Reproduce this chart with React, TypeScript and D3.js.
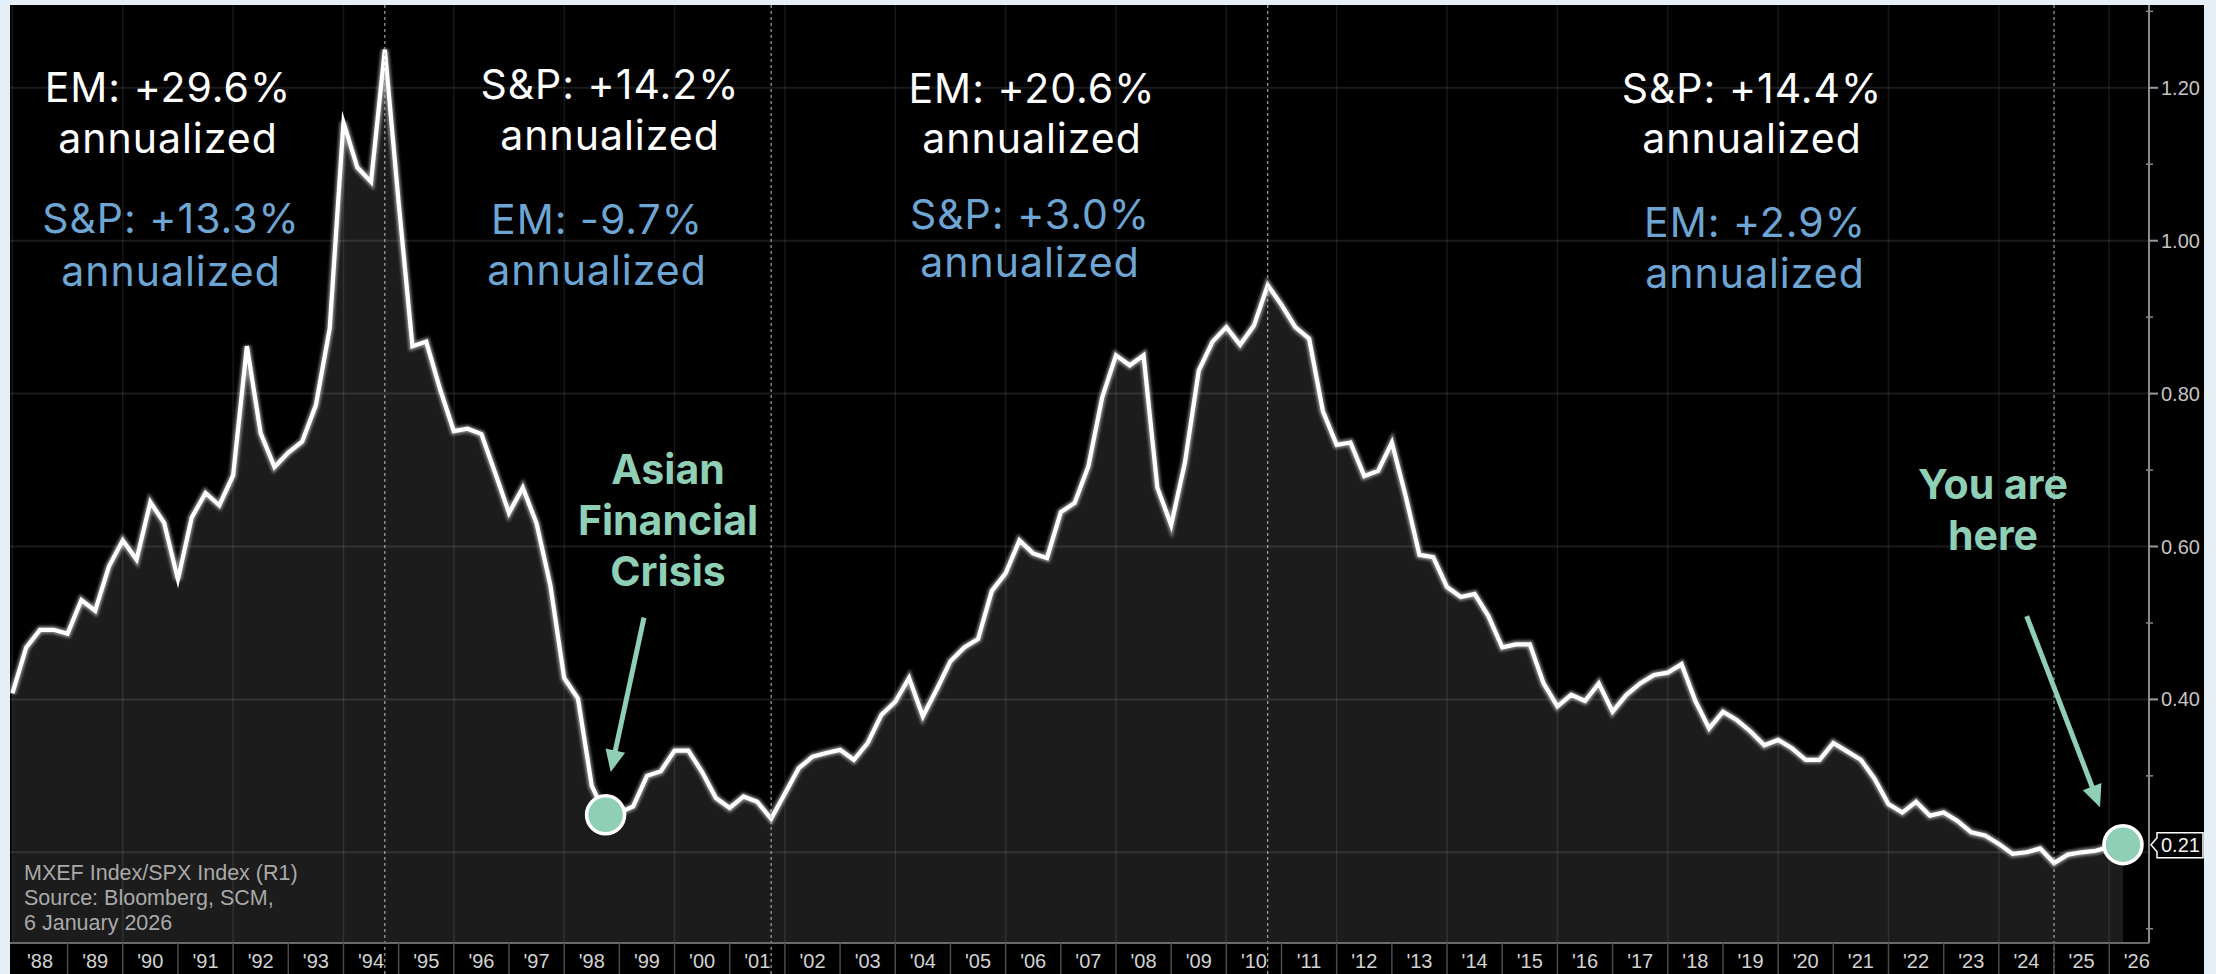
import React from "react";
import * as d3 from "d3";

// ---------------- DATA ----------------
const START_YEAR = 1988;
const STEP = 0.25; // quarterly observations

// MXEF Index / SPX Index ratio, quarterly from 1988
const ratioValues: number[] = [
  0.408, 0.468, 0.491, 0.491, 0.486, 0.530, 0.516, 0.574, 0.608, 0.583,
  0.658, 0.631, 0.557, 0.638, 0.670, 0.654, 0.693, 0.862, 0.748, 0.704,
  0.723, 0.737, 0.785, 0.885, 1.155, 1.096, 1.077, 1.250, 1.050, 0.862,
  0.868, 0.806, 0.751, 0.754, 0.747, 0.696, 0.644, 0.677, 0.630, 0.549,
  0.428, 0.401, 0.287, 0.249, 0.252, 0.260, 0.300, 0.306, 0.333, 0.333,
  0.305, 0.271, 0.258, 0.273, 0.266, 0.244, 0.277, 0.310, 0.325, 0.330,
  0.334, 0.321, 0.343, 0.380, 0.397, 0.428, 0.378, 0.413, 0.450, 0.468,
  0.479, 0.542, 0.565, 0.608, 0.591, 0.585, 0.645, 0.657, 0.705, 0.795,
  0.850, 0.837, 0.850, 0.677, 0.628, 0.710, 0.830, 0.868, 0.887, 0.864,
  0.889, 0.942, 0.916, 0.887, 0.872, 0.777, 0.733, 0.736, 0.692, 0.699,
  0.736, 0.666, 0.589, 0.586, 0.547, 0.534, 0.538, 0.509, 0.468, 0.472,
  0.472, 0.421, 0.391, 0.406, 0.398, 0.421, 0.384, 0.406, 0.421, 0.432,
  0.435, 0.446, 0.398, 0.362, 0.384, 0.373, 0.358, 0.340, 0.347, 0.336,
  0.321, 0.321, 0.343, 0.332, 0.321, 0.296, 0.263, 0.252, 0.266, 0.248,
  0.252, 0.241, 0.226, 0.222, 0.211, 0.198, 0.200, 0.205, 0.186, 0.197,
  0.200, 0.202, 0.207, 0.210,
];

const yearTicks: number[] = d3.range(1988, 2027);
const yearLabels: string[] = yearTicks.map((y) => "'" + String(y).slice(2));
const yMajorTicks: number[] = [0.4, 0.6, 0.8, 1.0, 1.2];
const yMajorLabels: string[] = ["0.40", "0.60", "0.80", "1.00", "1.20"];
const yGridValues: number[] = [0.2, 0.4, 0.6, 0.8, 1.0, 1.2];
const yMinorTicks: number[] = [0.1, 0.3, 0.5, 0.7, 0.9, 1.1, 1.3];
const lastValueLabel = "0.21";

// regime boundaries (quarter index)
const dividerIndices: number[] = [27, 55, 91, 148];

// period statistics
const periodWhite: string[][] = [
  ["EM: +29.6%", "annualized"],
  ["S&P: +14.2%", "annualized"],
  ["EM: +20.6%", "annualized"],
  ["S&P: +14.4%", "annualized"],
];
const periodBlue: string[][] = [
  ["S&P: +13.3%", "annualized"],
  ["EM: -9.7%", "annualized"],
  ["S&P: +3.0%", "annualized"],
  ["EM: +2.9%", "annualized"],
];

// highlighted points (quarter index) and callout arrows (date, value)
const asianCrisisIndex = 43;
const asianLabel: string[] = ["Asian", "Financial", "Crisis"];
const asianArrow = { from: [1999.446, 0.507], to: [1998.843, 0.305] };
const hereLabel: string[] = ["You are", "here"];
const hereArrow = { from: [2024.504, 0.509], to: [2025.833, 0.259] };

const sourceLines: string[] = [
  "MXEF Index/SPX Index (R1)",
  "Source: Bloomberg, SCM,",
  "6 January 2026",
];

// ---------------- LAYOUT ----------------
const W = 2216;
const H = 974;
const PANEL_L = 10;
const PANEL_R = 2204;
const PANEL_T = 5;
const PLOT_B = 943;
const AXIS_X = 2149;

const whiteLayout = [
  { x: 168, y: [102, 153] },
  { x: 610, y: [99, 150] },
  { x: 1032, y: [103, 153] },
  { x: 1752, y: [103, 153] },
];
const blueLayout = [
  { x: 171, y: [233, 286] },
  { x: 597, y: [234, 285] },
  { x: 1030, y: [229, 277] },
  { x: 1755, y: [237, 288] },
];

const BLUE = "#6da6d4";
const MINT = "#8ecfb6";
const TEXT_FONT = "Inter, 'Noto Sans', sans-serif";
const AXIS_FONT = "'Liberation Sans', Arial, sans-serif";

type Pt = { date: number; v: number };
const data: Pt[] = ratioValues.map((v, i) => ({ date: START_YEAR + i * STEP, v }));

const x = d3.scaleLinear().domain([1988, 2026]).range([12.4, 2109.2]);
const y = d3.scaleLinear().domain([0.2, 1.2]).range([852.3, 87.8]);

function Arrow({ from, to }: { from: number[]; to: number[] }) {
  const x1 = x(from[0]);
  const y1 = y(from[1]);
  const x2 = x(to[0]);
  const y2 = y(to[1]);
  const ang = Math.atan2(y2 - y1, x2 - x1);
  const L = 22;
  const hw = 10;
  const bx = x2 - L * Math.cos(ang);
  const by = y2 - L * Math.sin(ang);
  const px = -Math.sin(ang);
  const py = Math.cos(ang);
  const head = `M${x2},${y2} L${bx + hw * px},${by + hw * py} L${bx - hw * px},${by - hw * py} Z`;
  return (
    <g>
      <line x1={x1} y1={y1} x2={bx + 2 * Math.cos(ang)} y2={by + 2 * Math.sin(ang)} stroke={MINT} strokeWidth={5} />
      <path d={head} fill={MINT} />
    </g>
  );
}

export default function App() {
  const area = d3
    .area<Pt>()
    .x((d) => x(d.date))
    .y0(PLOT_B)
    .y1((d) => y(d.v))(data) as string;
  const line = d3
    .line<Pt>()
    .x((d) => x(d.date))
    .y((d) => y(d.v))(data) as string;

  const evenYears = yearTicks.filter((yr) => yr % 2 === 0);
  const last = data[data.length - 1];
  const asian = data[asianCrisisIndex];
  const lastY = y(last.v);

  return (
    <div style={{ position: "fixed", left: 0, top: 0 }}>
      <svg width={W} height={H} viewBox={`0 0 ${W} ${H}`} style={{ display: "block" }}>
        <defs>
          <clipPath id="plotClip">
            <rect x={PANEL_L} y={PANEL_T} width={AXIS_X - PANEL_L} height={PLOT_B - PANEL_T} />
          </clipPath>
          <filter id="glow" x="-5%" y="-5%" width="110%" height="110%">
            <feGaussianBlur stdDeviation="1.8" />
          </filter>
        </defs>
        <rect x={0} y={0} width={W} height={H} fill="#e4eff7" />
        <rect x={PANEL_L} y={PANEL_T} width={PANEL_R - PANEL_L} height={H - PANEL_T} fill="#000" />

        <g clipPath="url(#plotClip)">
          <path d={area} fill="#1c1c1c" />
          {yGridValues.map((v) => (
            <line key={"hg" + v} x1={PANEL_L} x2={AXIS_X} y1={y(v)} y2={y(v)} stroke="#ffffff" strokeOpacity={0.1} strokeWidth={2} />
          ))}
          {evenYears.map((yr) => (
            <line key={"vg" + yr} x1={x(yr)} x2={x(yr)} y1={PANEL_T} y2={PLOT_B} stroke="#ffffff" strokeOpacity={0.09} strokeWidth={1.5} />
          ))}
          <path d={line} fill="none" stroke="#ffffff" strokeOpacity={0.5} strokeWidth={7.5} strokeLinejoin="miter" filter="url(#glow)" />
          <path d={line} fill="none" stroke="#ffffff" strokeWidth={4.2} strokeLinejoin="miter" strokeMiterlimit={6} />
        </g>

        {/* regime dividers */}
        {dividerIndices.map((i) => (
          <line key={"dv" + i} x1={x(data[i].date)} x2={x(data[i].date)} y1={PANEL_T} y2={H} stroke="#b9c3cc" strokeWidth={1} strokeDasharray="3,3" />
        ))}

        {/* bottom axis band */}
        <line x1={PANEL_L} x2={AXIS_X} y1={PLOT_B} y2={PLOT_B} stroke="#6a6a6a" strokeWidth={2} />
        {yearTicks.slice(1).map((yr) => (
          <line key={"sep" + yr} x1={x(yr)} x2={x(yr)} y1={PLOT_B} y2={H} stroke="#4a4a4a" strokeWidth={1.5} />
        ))}
        {yearTicks.map((yr, i) => (
          <text key={"yl" + yr} x={x(yr + 0.5)} y={968} fill="#d2d2d2" fontFamily={AXIS_FONT} fontSize={20} textAnchor="middle">
            {yearLabels[i]}
          </text>
        ))}

        {/* right axis */}
        <line x1={AXIS_X} x2={AXIS_X} y1={PANEL_T} y2={PLOT_B} stroke="#8a8a8a" strokeWidth={2} />
        {yMinorTicks.map((v) => (
          <line key={"mt" + v} x1={AXIS_X - 3} x2={AXIS_X + 4} y1={y(v)} y2={y(v)} stroke="#8a8a8a" strokeWidth={1.5} />
        ))}
        {yMajorTicks.map((v, i) => (
          <g key={"yt" + v}>
            <line x1={AXIS_X} x2={AXIS_X + 9} y1={y(v)} y2={y(v)} stroke="#9a9a9a" strokeWidth={2} />
            <text x={2161} y={y(v)} dy="0.35em" fill="#c4c4c4" fontFamily={AXIS_FONT} fontSize={20}>
              {yMajorLabels[i]}
            </text>
          </g>
        ))}
        {/* last value tag */}
        <path
          d={`M${AXIS_X + 2},${lastY} L${2157},${lastY - 7} L${2157},${lastY - 12} L${2203},${lastY - 12} L${2203},${lastY + 13} L${2157},${lastY + 13} L${2157},${lastY + 7} Z`}
          fill="#000"
          stroke="#ffffff"
          strokeWidth={1.5}
        />
        <text x={2161} y={lastY} dy="0.36em" fill="#f2f2f2" fontFamily={AXIS_FONT} fontSize={20}>
          {lastValueLabel}
        </text>

        {/* period stats */}
        {periodWhite.map((lines, k) =>
          lines.map((t, j) => (
            <text key={"w" + k + j} x={whiteLayout[k].x} y={whiteLayout[k].y[j]} fill="#ffffff" fontFamily={TEXT_FONT} fontSize={41} letterSpacing={1} textAnchor="middle">
              {t}
            </text>
          ))
        )}
        {periodBlue.map((lines, k) =>
          lines.map((t, j) => (
            <text key={"b" + k + j} x={blueLayout[k].x} y={blueLayout[k].y[j]} fill={BLUE} fontFamily={TEXT_FONT} fontSize={41} letterSpacing={1} textAnchor="middle">
              {t}
            </text>
          ))
        )}

        {/* Asian crisis callout */}
        {asianLabel.map((t, j) => (
          <text key={"as" + j} x={668} y={484 + j * 51} fill={MINT} fontFamily={TEXT_FONT} fontWeight={700} fontSize={41} textAnchor="middle">
            {t}
          </text>
        ))}
        <Arrow from={asianArrow.from} to={asianArrow.to} />
        <circle cx={x(asian.date)} cy={y(asian.v)} r={19} fill={MINT} stroke="#ffffff" strokeWidth={3.5} />

        {/* You are here callout */}
        {hereLabel.map((t, j) => (
          <text key={"yh" + j} x={1993} y={499 + j * 51} fill={MINT} fontFamily={TEXT_FONT} fontWeight={700} fontSize={41} textAnchor="middle">
            {t}
          </text>
        ))}
        <Arrow from={hereArrow.from} to={hereArrow.to} />
        <circle cx={x(last.date)} cy={lastY} r={19} fill={MINT} stroke="#ffffff" strokeWidth={3.5} />

        {/* source */}
        {sourceLines.map((t, j) => (
          <text key={"src" + j} x={24} y={880 + j * 25} fill="#a9a9a9" fontFamily={AXIS_FONT} fontSize={21.5}>
            {t}
          </text>
        ))}
      </svg>
    </div>
  );
}
